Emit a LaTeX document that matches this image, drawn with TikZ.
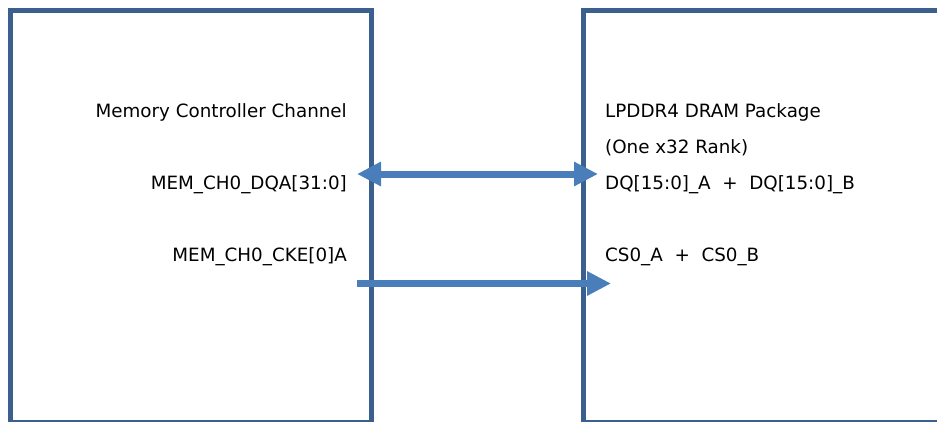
\documentclass[tikz,border=0pt]{standalone}
\usepackage{fontspec}
\setmainfont{DejaVu Sans}
\usetikzlibrary{arrows.meta}
\definecolor{boxblue}{HTML}{3B6090}
\definecolor{arrowblue}{HTML}{4A7EBB}
\tikzset{
  chipbox/.style={draw=boxblue, line width=5pt, inner sep=0pt, outer sep=0pt, anchor=north west},
  sig/.style={font=\fontsize{18.3}{22}\selectfont, inner sep=0pt},
  bus/.style={draw=arrowblue, line width=7pt, -{Triangle[width=23pt,length=24pt]}},
  dbus/.style={bus, {Triangle[width=23pt,length=24pt]}-{Triangle[width=23pt,length=24pt]}}
}
\begin{document}
\begin{tikzpicture}[x=1pt,y=-1pt]
\useasboundingbox (0,0) rectangle (937,421);
\clip (0,0) rectangle (937,421);
%
\node[chipbox, minimum width=360.5pt, minimum height=412pt] at (10.5,10.5) (mc) {};
\node[chipbox, minimum width=400pt, minimum height=412pt] at (583.5,10.5) (dram) {};
%
\node[sig, anchor=base east] at (347,117.5) (mctitle) {Memory Controller Channel};
\node[sig, anchor=base east] at (347,189.5) (dqa) {MEM\_CH0\_DQA[31:0]};
\node[sig, anchor=base east] at (347,261) (cke) {MEM\_CH0\_CKE[0]A};
%
\node[sig, anchor=base west] at (605,117.5) (dramtitle) {LPDDR4 DRAM Package};
\node[sig, anchor=base west] at (605,153.5) (rank) {(One x32 Rank)};
\node[sig, anchor=base west] at (605,189.5) (dq) {DQ[15:0]\_A\ \ +\ \ DQ[15:0]\_B};
\node[sig, anchor=base west] at (605,261) (cs) {CS0\_A\ \ +\ \ CS0\_B};
%
\coordinate (dqL) at (357,174);
\coordinate (dqR) at (598,174);
\coordinate (ckeL) at (357,283.5);
\coordinate (ckeR) at (611,283.5);
\draw[dbus] (dqL) -- (dqR);
\draw[bus] (ckeL) -- (ckeR);
\end{tikzpicture}
\end{document}
